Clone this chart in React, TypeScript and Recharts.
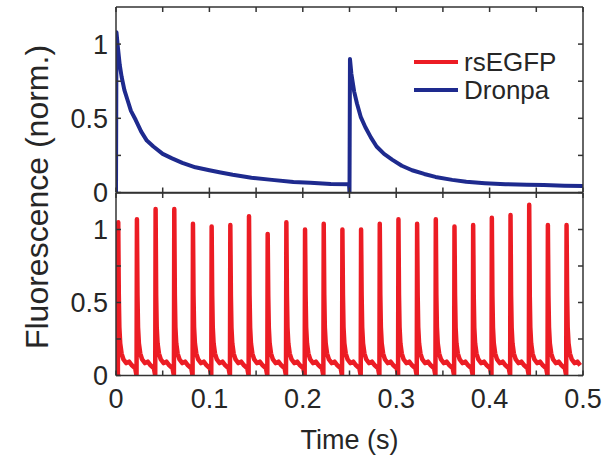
import React from 'react';
import { LineChart, Line, XAxis, YAxis } from 'recharts';

// ---- Data ----
// Dronpa (top panel): time (s) and normalized fluorescence
const dronpaTime = [
  0, 0.0005, 0.002, 0.004, 0.006, 0.009, 0.0125, 0.016, 0.021, 0.027, 0.033, 0.04,
  0.05, 0.06, 0.071, 0.085, 0.1, 0.112, 0.125, 0.145, 0.167, 0.19, 0.208, 0.23, 0.2495,
  0.25, 0.2505, 0.252, 0.255, 0.258, 0.262, 0.267, 0.273, 0.279, 0.287, 0.296, 0.306,
  0.317, 0.33, 0.342, 0.36, 0.375, 0.395, 0.417, 0.44, 0.458, 0.48, 0.5,
];
const dronpaValue = [
  0, 1.08, 0.98, 0.86, 0.78, 0.69, 0.62, 0.55, 0.49, 0.41, 0.35, 0.31,
  0.26, 0.23, 0.2, 0.17, 0.15, 0.135, 0.12, 0.1, 0.085, 0.07, 0.065, 0.058, 0.055,
  0, 0.9, 0.8, 0.68, 0.6, 0.51, 0.44, 0.37, 0.31, 0.26, 0.22, 0.18,
  0.15, 0.125, 0.105, 0.085, 0.072, 0.063, 0.056, 0.052, 0.05, 0.046, 0.043,
];

// rsEGFP (bottom panel): switching cycles — start time, peak height
const rsSpikeTimes = [
  0.002, 0.022, 0.042, 0.062, 0.082, 0.102, 0.122, 0.142, 0.162, 0.182, 0.202, 0.222,
  0.242, 0.262, 0.282, 0.302, 0.322, 0.342, 0.362, 0.382, 0.402, 0.422, 0.442, 0.462, 0.482,
];
const rsPeaks = [
  1.05, 1.07, 1.14, 1.14, 1.04, 1.02, 1.03, 1.09, 0.97, 1.05, 1.0, 1.04, 1.0,
  1.0, 1.04, 1.07, 1.04, 1.07, 1.02, 1.03, 1.08, 1.1, 1.17, 1.03, 1.03,
];
// decay after each peak (offset from cycle start in s, value)
const rsPeakOffset = 0.0004;
const rsTailOffsets = [0.001, 0.0016, 0.0025, 0.004, 0.006, 0.009, 0.012, 0.015, 0.0185];
const rsTailValues = [0.55, 0.33, 0.22, 0.15, 0.11, 0.085, 0.095, 0.07, 0.05];

const xTicks = [0, 0.05, 0.1, 0.15, 0.2, 0.25, 0.3, 0.35, 0.4, 0.45, 0.5];
const yTicks = [0, 0.25, 0.5, 0.75, 1];

// ---- Tables for Recharts ----
const dronpaData = dronpaTime.map((t, i) => ({ t, v: dronpaValue[i] }));
const rsData: { t: number; v: number }[] = [{ t: 0, v: 0 }];
rsSpikeTimes.forEach((s, k) => {
  rsData.push({ t: s, v: 0 });
  rsData.push({ t: s + rsPeakOffset, v: rsPeaks[k] });
  rsTailOffsets.forEach((o, j) => {
    if (s + o <= 0.5) rsData.push({ t: s + o, v: rsTailValues[j] });
  });
});

const FONT = '"Liberation Sans", Arial, Helvetica, sans-serif';
const TXT = '#262626';
const AX = '#333';
const RED = '#ec1c24';
const BLUE = '#1e2a8e';
const TICK_FS = 27;

const fmtX = (v: number) => {
  const r = Math.round(v * 100);
  return r % 10 === 0 ? String(r / 100) : '';
};
const fmtY = (v: number) => (v === 0 || v === 0.5 || v === 1 ? String(v) : '');
const blank = () => '';

const axisLine = { stroke: AX, strokeWidth: 1.5 };
const tickLine = { stroke: AX, strokeWidth: 1.5 };
const tickStyle = { fill: TXT, fontSize: TICK_FS, fontFamily: FONT };

function Panel({
  data,
  color,
  width,
  height,
  bottomHeight,
  showXLabels,
  strokeWidth,
}: {
  data: { t: number; v: number }[];
  color: string;
  width: number;
  height: number;
  bottomHeight: number;
  showXLabels: boolean;
  strokeWidth: number;
}) {
  return (
    <LineChart width={width} height={height} data={data} margin={{ top: 0, right: 0, bottom: 0, left: 0 }}>
      <XAxis
        xAxisId="b"
        dataKey="t"
        type="number"
        domain={[0, 0.5]}
        allowDataOverflow
        ticks={xTicks}
        interval={0}
        orientation="bottom"
        height={bottomHeight}
        tickSize={-5}
        tickMargin={18}
        tickFormatter={showXLabels ? fmtX : blank}
        tick={tickStyle}
        axisLine={axisLine}
        tickLine={tickLine}
        label={
          showXLabels
            ? { value: 'Time (s)', position: 'insideBottom', offset: 12, fill: TXT, fontSize: 27, fontFamily: FONT }
            : undefined
        }
      />
      <XAxis
        xAxisId="t"
        dataKey="t"
        type="number"
        domain={[0, 0.5]}
        allowDataOverflow
        ticks={xTicks}
        interval={0}
        orientation="top"
        height={7}
        tickSize={-5}
        tickFormatter={blank}
        tick={tickStyle}
        axisLine={axisLine}
        tickLine={tickLine}
      />
      <YAxis
        yAxisId="l"
        type="number"
        domain={[0, 1.25]}
        allowDataOverflow
        ticks={yTicks}
        interval={0}
        width={116}
        tickSize={-5}
        tickMargin={13}
        tickFormatter={fmtY}
        tick={tickStyle}
        axisLine={axisLine}
        tickLine={tickLine}
      />
      <YAxis
        yAxisId="r"
        orientation="right"
        type="number"
        domain={[0, 1.25]}
        allowDataOverflow
        ticks={yTicks}
        interval={0}
        width={26}
        tickSize={-5}
        tickFormatter={blank}
        tick={tickStyle}
        axisLine={axisLine}
        tickLine={tickLine}
      />
      <Line
        xAxisId="t"
        yAxisId="r"
        dataKey="v"
        stroke="none"
        dot={false}
        activeDot={false}
        isAnimationActive={false}
      />
      <Line
        xAxisId="b"
        yAxisId="l"
        dataKey="v"
        type="linear"
        stroke={color}
        strokeWidth={strokeWidth}
        strokeLinejoin="round"
        dot={false}
        activeDot={false}
        isAnimationActive={false}
      />
    </LineChart>
  );
}

export default function App() {
  return (
    <div style={{ position: 'absolute', left: 0, top: 0, width: 609, height: 460, background: '#fff', fontFamily: FONT }}>
      <div style={{ position: 'absolute', left: 0, top: 0 }}>
        <Panel data={dronpaData} color={BLUE} width={609} height={212} bottomHeight={19.5} showXLabels={false} strokeWidth={4} />
      </div>
      <div style={{ position: 'absolute', left: 0, top: 185.5 }}>
        <Panel data={rsData} color={RED} width={609} height={274.5} bottomHeight={85} showXLabels strokeWidth={4.5} />
      </div>
      {/* legend */}
      <div style={{ position: 'absolute', left: 414, top: 48, fontSize: 26, color: TXT, lineHeight: '28px' }}>
        {[
          { name: 'rsEGFP', c: RED },
          { name: 'Dronpa', c: BLUE },
        ].map((e) => (
          <div key={e.name} style={{ display: 'flex', alignItems: 'center', height: 28 }}>
            <span style={{ display: 'inline-block', width: 44, height: 4, background: e.c, marginRight: 6 }} />
            <span>{e.name}</span>
          </div>
        ))}
      </div>
      {/* y axis title spanning both panels */}
      <svg width={609} height={460} style={{ position: 'absolute', left: 0, top: 0, pointerEvents: 'none' }}>
        <text
          x={0}
          y={0}
          transform="translate(37,197) rotate(-90)"
          textAnchor="middle"
          dominantBaseline="central"
          fill={TXT}
          fontSize={32}
          fontFamily={FONT}
        >
          Fluorescence (norm.)
        </text>
      </svg>
    </div>
  );
}
